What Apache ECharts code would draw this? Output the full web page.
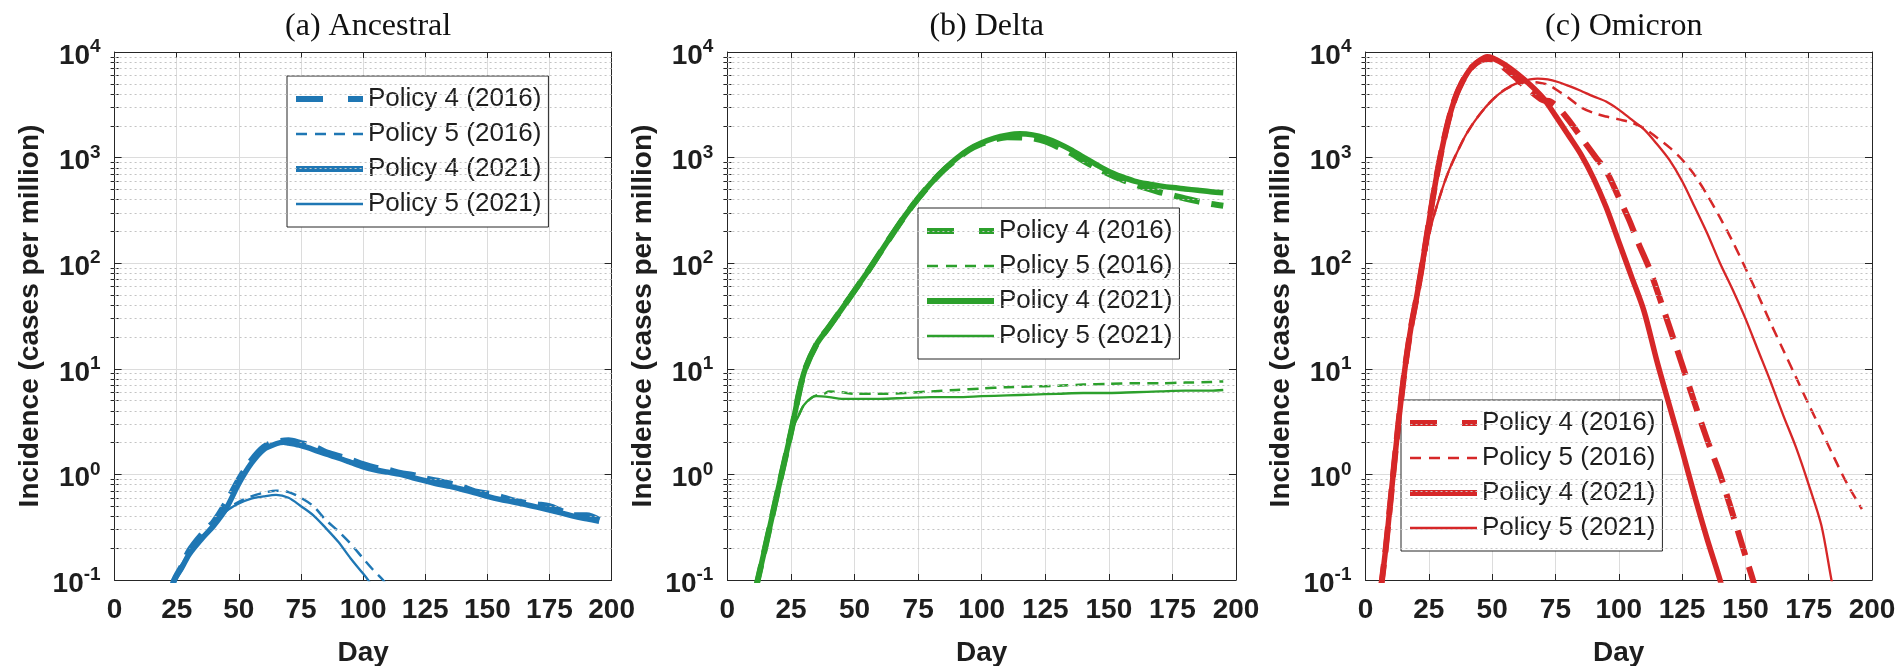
<!DOCTYPE html>
<html><head><meta charset="utf-8">
<script src="https://cdn.jsdelivr.net/npm/echarts@6/dist/echarts.min.js"></script>
<style>html,body{margin:0;padding:0;background:#fff}#chart{width:1901px;height:666px}</style>
</head><body><div id="chart"></div>
<script>
// ---------- data (day, cases per million) ----------
const panelTitles = ['(a) Ancestral', '(b) Delta', '(c) Omicron'];
const seriesNames = ['Policy 4 (2016)', 'Policy 5 (2016)', 'Policy 4 (2021)', 'Policy 5 (2021)'];
const xTicks = [0, 25, 50, 75, 100, 125, 150, 175, 200];
const yMajorTicks = [0.1, 1, 10, 100, 1000, 10000];
const yMinorTicks = [0.2,0.3,0.4,0.5,0.6,0.7,0.8,0.9,2,3,4,5,6,7,8,9,20,30,40,50,60,70,80,90,200,300,400,500,600,700,800,900,2000,3000,4000,5000,6000,7000,8000,9000];

const ancP4_2016 = [[23,0.08],[24,0.1],[27,0.135],[30,0.19],[35,0.27],[40,0.36],[45,0.55],[50,0.9],[55,1.36],[60,1.82],[65,2.04],[70,2.1],[75,1.98],[80,1.85],[85,1.63],[90,1.5],[95,1.38],[100,1.25],[105,1.16],[110,1.11],[115,1.03],[120,0.99],[125,0.92],[130,0.87],[135,0.82],[140,0.76],[145,0.69],[150,0.66],[155,0.62],[160,0.57],[165,0.54],[170,0.52],[175,0.5],[180,0.45],[185,0.41],[190,0.41],[195,0.37]];
const ancP5_2016 = [[23,0.08],[24,0.1],[27,0.14],[30,0.18],[35,0.25],[40,0.34],[45,0.46],[50,0.55],[55,0.62],[60,0.67],[65,0.7],[70,0.68],[75,0.6],[80,0.5],[85,0.37],[90,0.29],[95,0.22],[100,0.16],[104,0.125],[108,0.1],[110,0.085]];
const ancP4_2021 = [[23,0.08],[24,0.1],[27,0.13],[30,0.175],[35,0.245],[40,0.33],[45,0.48],[50,0.82],[55,1.27],[60,1.72],[65,1.95],[68,2.02],[70,1.98],[75,1.87],[80,1.72],[85,1.56],[90,1.43],[95,1.3],[100,1.18],[105,1.1],[110,1.05],[115,1.0],[120,0.93],[125,0.87],[130,0.81],[135,0.77],[140,0.72],[145,0.67],[150,0.62],[155,0.58],[160,0.55],[165,0.52],[170,0.49],[175,0.46],[180,0.43],[185,0.4],[190,0.38],[195,0.36]];
const ancP5_2021 = [[23,0.08],[24,0.1],[27,0.14],[30,0.18],[35,0.25],[40,0.34],[45,0.45],[50,0.53],[55,0.59],[60,0.62],[65,0.64],[70,0.6],[75,0.5],[80,0.41],[85,0.31],[90,0.23],[95,0.16],[100,0.115],[102,0.1],[104,0.085]];

const delP4_2016 = [[11,0.08],[15,0.21],[20,0.73],[25,2.5],[30,9],[35,17],[40,25],[45,37],[50,55],[55,82],[60,125],[65,190],[70,285],[75,410],[80,570],[85,760],[90,960],[95,1180],[100,1350],[105,1480],[110,1560],[115,1550],[120,1520],[125,1420],[130,1260],[135,1100],[140,930],[145,800],[150,700],[155,620],[160,560],[165,510],[170,470],[175,440],[180,410],[185,385],[190,365],[195,350]];
const delP5_2016 = [[11,0.08],[15,0.21],[20,0.73],[25,2.5],[28,3.6],[30,4.5],[33,5.3],[35,5.6],[38,5.8],[40,6.1],[45,6.0],[50,5.8],[60,5.8],[70,5.9],[80,6.1],[90,6.3],[100,6.5],[110,6.7],[120,6.8],[130,6.9],[140,7.1],[150,7.2],[160,7.3],[170,7.3],[180,7.4],[190,7.5],[195,7.6]];
const delP4_2021 = [[11,0.08],[15,0.21],[20,0.73],[25,2.5],[30,9],[35,17],[40,25],[45,37],[50,55],[55,82],[60,125],[65,190],[70,285],[75,410],[80,570],[85,760],[90,980],[95,1200],[100,1380],[105,1530],[110,1630],[115,1680],[120,1640],[125,1530],[130,1370],[135,1190],[140,1010],[145,860],[150,740],[155,660],[160,600],[165,565],[170,540],[175,520],[180,505],[185,490],[190,475],[195,465]];
const delP5_2021 = [[11,0.08],[15,0.21],[20,0.73],[25,2.5],[28,3.6],[30,4.5],[33,5.3],[35,5.5],[40,5.4],[45,5.2],[50,5.2],[60,5.2],[70,5.3],[80,5.4],[90,5.4],[100,5.5],[110,5.6],[120,5.7],[130,5.8],[140,5.9],[150,5.9],[160,6.0],[170,6.1],[180,6.2],[190,6.2],[195,6.3]];

const omiP4_2016 = [[6,0.08],[8,0.2],[10,0.6],[12,1.8],[14,5],[16,12],[18,25],[20,45],[22,85],[24,170],[26,340],[28,650],[30,1150],[32,1900],[34,2900],[36,4000],[38,5100],[40,6200],[42,7200],[45,8200],[48,8600],[50,8500],[55,7000],[60,5500],[65,4300],[70,3500],[73,3400],[76,3000],[80,2300],[84,1700],[88,1250],[91,1000],[95,750],[100,420],[104,260],[108,150],[112,90],[116,48],[120,25],[125,11],[130,4.7],[135,2.1],[140,1.0],[145,0.42],[150,0.17],[153,0.1],[154,0.08]];
const omiP5_2016 = [[6,0.08],[8,0.2],[10,0.6],[12,1.8],[14,5],[16,12],[18,25],[20,40],[23,100],[26,230],[30,480],[33,760],[36,1100],[40,1700],[45,2550],[50,3500],[55,4400],[60,5000],[65,5200],[68,5150],[72,4900],[76,4300],[80,3700],[85,3000],[90,2650],[95,2450],[100,2300],[105,2150],[110,1900],[115,1550],[120,1250],[125,960],[130,680],[135,440],[140,270],[145,160],[150,90],[155,50],[160,27],[165,15],[170,8.3],[175,4.6],[180,2.6],[185,1.45],[190,0.83],[196,0.47]];
const omiP4_2021 = [[6,0.08],[8,0.2],[10,0.6],[12,1.8],[14,5],[16,12],[18,25],[20,45],[22,85],[24,170],[26,340],[28,650],[30,1150],[32,1900],[34,2900],[36,4000],[38,5100],[40,6200],[42,7200],[45,8300],[48,9000],[50,8800],[55,7600],[60,6200],[65,4900],[70,3700],[75,2500],[80,1650],[85,1080],[90,640],[95,340],[100,160],[105,75],[110,35],[115,12],[120,4.5],[125,1.7],[130,0.62],[135,0.24],[140,0.1],[141,0.08]];
const omiP5_2021 = [[6,0.08],[8,0.2],[10,0.6],[12,1.8],[14,5],[16,12],[18,25],[20,40],[23,100],[26,230],[30,480],[33,760],[36,1100],[40,1700],[45,2550],[50,3500],[55,4400],[60,5100],[65,5500],[68,5600],[72,5500],[76,5200],[80,4800],[85,4300],[90,3800],[95,3400],[100,2850],[105,2300],[110,1850],[115,1350],[120,950],[125,600],[130,340],[135,190],[140,100],[145,56],[150,30],[155,15],[160,7.5],[165,3.6],[170,1.8],[175,0.8],[180,0.33],[184,0.1],[185,0.08]];

const panelData = [
  [ancP4_2016, ancP5_2016, ancP4_2021, ancP5_2021],
  [delP4_2016, delP5_2016, delP4_2021, delP5_2021],
  [omiP4_2016, omiP5_2016, omiP4_2021, omiP5_2021]
];

// ---------- styles / layout ----------
const FONT = 'Liberation Sans';
const SERIF = 'Liberation Serif';
const TXT = '#1e1e1e';
const AXC = '#262626';
const GRIDC = '#dcdcdc';
const MINORC = '#c4c4c4';
const panelColors = ['#1f77b4', '#2ca02c', '#d62728'];
const gridBoxes = [
  {left: 114.6, top: 52, width: 497, height: 528},
  {left: 727.4, top: 52, width: 508.6, height: 528},
  {left: 1365.5, top: 52, width: 506.5, height: 528}
];
const legendPos = [{left: 287, top: 76}, {left: 918, top: 208}, {left: 1401, top: 400}];
const lineStyles = [
  {width: 6, type: [26, 12]},
  {width: 2.5, type: [11, 7]},
  {width: 5.5, type: 'solid'},
  {width: 2.3, type: 'solid'}
];
const legendLineStyles = [
  {width: 6, type: [27, 25]},
  {width: 2.5, type: [11, 8]},
  {width: 6, type: 'solid'},
  {width: 2.5, type: 'solid'}
];

const grid = [], xAxis = [], yAxis = [], series = [], legend = [], title = [];

gridBoxes.forEach((g, i) => {
  grid.push(Object.assign({outerBoundsMode: 'none', containLabel: false}, g));
  title.push({
    text: panelTitles[i], left: g.left + g.width / 2, top: 6, textAlign: 'center',
    textStyle: {fontFamily: SERIF, fontSize: 32, fontWeight: 'normal', color: '#111'}
  });
  const xBase = {
    gridIndex: i, type: 'value', min: 0, max: 200, interval: 25,
    axisLine: {show: true, onZero: false, lineStyle: {color: AXC, width: 1}},
    axisTick: {show: true, inside: true, length: 6, lineStyle: {color: AXC, width: 1}}
  };
  xAxis.push(Object.assign({}, xBase, {
    position: 'bottom',
    axisLabel: {show: true, margin: 16, fontFamily: FONT, fontSize: 28, fontWeight: 'bold', color: TXT, showMinLabel: true, showMaxLabel: true},
    splitLine: {show: true, lineStyle: {color: GRIDC, width: 1}},
    name: 'Day', nameLocation: 'middle', nameGap: 59,
    nameTextStyle: {fontFamily: FONT, fontSize: 28, fontWeight: 'bold', color: TXT}
  }));
  xAxis.push(Object.assign({}, xBase, {
    position: 'top', axisLabel: {show: false}, splitLine: {show: false}
  }));
  const yBase = {
    gridIndex: i, type: 'log', logBase: 10, min: 0.1, max: 10000,
    axisLine: {show: true, onZero: false, lineStyle: {color: AXC, width: 1}}
  };
  yAxis.push(Object.assign({}, yBase, {
    position: 'left',
    axisTick: {show: true, inside: true, length: 7, lineStyle: {color: AXC}},
    axisLabel: {
      show: true, margin: 14,
      formatter: v => '{b|10}{s|' + Math.round(Math.log10(v)) + '}',
      rich: {
        b: {fontFamily: FONT, fontSize: 28, fontWeight: 'bold', color: TXT, padding: [8, 0, 0, 0]},
        s: {fontFamily: FONT, fontSize: 19, fontWeight: 'bold', color: TXT, padding: [0, 0, 10, 0]}
      }
    },
    splitLine: {show: true, lineStyle: {color: GRIDC, width: 1}},
    name: 'Incidence (cases per million)', nameLocation: 'middle', nameGap: 70,
    nameTextStyle: {fontFamily: FONT, fontSize: 28, fontWeight: 'bold', color: TXT}
  }));
  yAxis.push(Object.assign({}, yBase, {
    position: 'right',
    axisTick: {show: true, inside: true, length: 7, lineStyle: {color: AXC}},
    axisLabel: {show: false}, splitLine: {show: false}
  }));
  ['left', 'right'].forEach(pos => {
    yAxis.push(Object.assign({}, yBase, {
      position: pos,
      axisLine: {show: false},
      axisTick: {show: true, inside: true, length: 4, customValues: yMinorTicks, lineStyle: {color: AXC}},
      axisLabel: {show: false}, splitLine: {show: false}
    }));
  });

  // minor (dotted) grid lines drawn through the y scale
  series.push({
    type: 'line', xAxisIndex: 2 * i, yAxisIndex: 4 * i, data: [], silent: true, z: 1,
    markLine: {
      silent: true, symbol: ['none', 'none'], label: {show: false}, animation: false,
      lineStyle: {color: MINORC, type: [2, 3], width: 1},
      emphasis: {disabled: true},
      data: yMinorTicks.map(v => ({yAxis: v}))
    }
  });

  panelData[i].forEach((d, k) => {
    series.push({
      name: seriesNames[k], type: 'line', xAxisIndex: 2 * i, yAxisIndex: 4 * i,
      data: d, showSymbol: false, symbol: 'none', smooth: 0.3, z: 3 + k, clip: true,
      lineStyle: {color: panelColors[i], width: lineStyles[k].width, type: lineStyles[k].type, cap: 'butt', join: 'round'},
      itemStyle: {color: panelColors[i]},
      emphasis: {disabled: true}
    });
  });

  legend.push({
    orient: 'vertical', left: legendPos[i].left, top: legendPos[i].top,
    padding: [10, 7, 10, 6], itemGap: 9, itemWidth: 67, itemHeight: 14,
    borderColor: AXC, borderWidth: 1, backgroundColor: '#fff', borderRadius: 0,
    selectedMode: false,
    textStyle: {fontFamily: FONT, fontSize: 26, color: TXT, lineHeight: 26},
    data: seriesNames.map((n, k) => ({
      name: n,
      itemStyle: {color: panelColors[i], opacity: 0},
      lineStyle: {color: panelColors[i], width: legendLineStyles[k].width, type: legendLineStyles[k].type, cap: 'butt', opacity: 1}
    }))
  });
});

const chart = echarts.init(document.getElementById('chart'), null, {renderer: 'canvas'});
chart.setOption({
  backgroundColor: '#ffffff',
  animation: false,
  title, grid, xAxis, yAxis, legend, series
});
</script></body></html>
